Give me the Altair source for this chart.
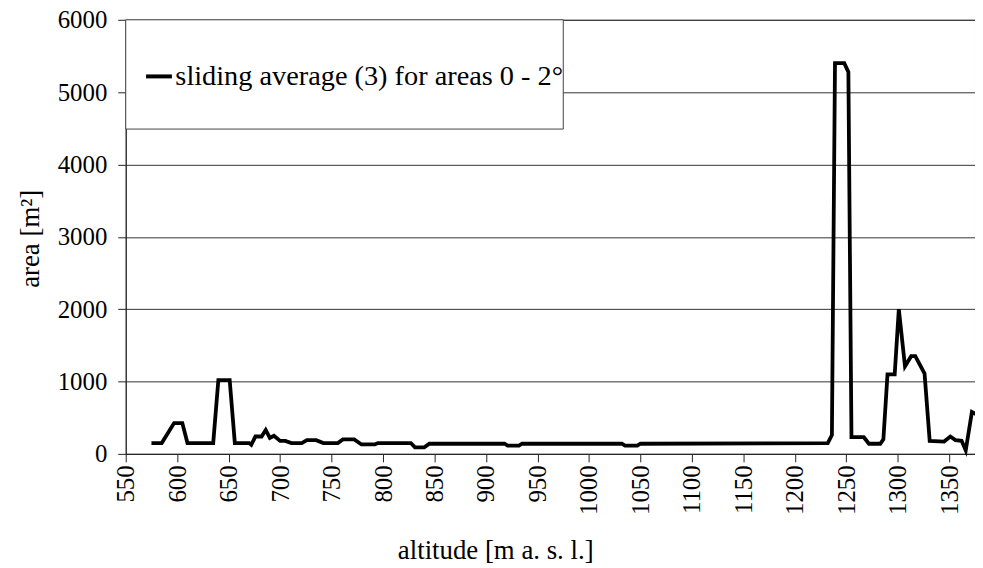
import altair as alt
import pandas as pd

# vertices of the plotted line (altitude [m a.s.l.], area [m2])
altitude = [575, 585, 597, 605, 610, 635, 640, 651, 656, 670, 672, 676, 682, 686, 690, 694,
            700, 705, 711, 721, 726, 735, 742, 756, 761, 772, 779, 792, 795, 827, 831, 840,
            845, 918, 921, 932, 935, 1032, 1035, 1047, 1050, 1232, 1236, 1239, 1248, 1252,
            1255, 1267, 1272, 1283, 1286, 1290, 1297, 1301, 1307, 1313, 1317, 1326, 1331,
            1345, 1351, 1356, 1362, 1366, 1372, 1376]
area = [150, 150, 425, 425, 150, 150, 1020, 1020, 150, 150, 125, 240, 240, 330, 220, 250,
        180, 180, 150, 150, 190, 190, 150, 150, 200, 200, 130, 130, 150, 150, 90, 90,
        140, 140, 115, 115, 140, 140, 115, 115, 140, 150, 260, 5400, 5400, 5280,
        230, 230, 140, 140, 200, 1100, 1100, 2000, 1210, 1350, 1350, 1110, 180,
        170, 240, 190, 180, 50, 580, 550]

x_ticks = list(range(550, 1351, 50))
y_ticks = [0, 1000, 2000, 3000, 4000, 5000, 6000]
legend_label = "sliding average (3) for areas 0 - 2°"
x_title = "altitude [m a. s. l.]"
y_title = "area [m²]"

df = pd.DataFrame({"altitude": altitude, "area": area})

W, H = 855, 437
FONT = "Liberation Serif"

common = dict(labelFont=FONT, titleFont=FONT, labelColor="black", titleColor="black",
              titleFontWeight="normal", labelFontWeight="normal", labelFlush=False,
              labelOverlap=False, format="d", labelFontSize=25, titleFontSize=27,
              domainColor="#222", tickColor="#222", tickSize=8)

x_enc = alt.X("altitude:Q",
              scale=alt.Scale(domain=[550, 1375], nice=False, zero=False),
              axis=alt.Axis(values=x_ticks, labelAngle=-90, title=x_title,
                            grid=False, labelPadding=3,
                            titleX=372, titleY=97, titleBaseline="middle",
                            **common))
y_enc = alt.Y("area:Q",
              scale=alt.Scale(domain=[0, 6000], nice=False),
              axis=alt.Axis(values=y_ticks, title=y_title, grid=True,
                            gridColor="#333", gridWidth=1, gridOpacity=1,
                            labelPadding=11,
                            titleX=-96, titleY=220, titleAngle=-90,
                            titleBaseline="middle", titleAlign="center",
                            **common))

line = alt.Chart(df).mark_line(color="black", strokeWidth=3.8).encode(x=x_enc, y=y_enc)

legend_df = pd.DataFrame({"label": [legend_label]})
box = alt.Chart(legend_df).mark_rect(fill="white", stroke="#444", strokeWidth=1).encode(
    x=alt.value(0), x2=alt.value(440.5), y=alt.value(0), y2=alt.value(110))
sample = alt.Chart(legend_df).mark_rule(color="black", strokeWidth=4).encode(
    x=alt.value(20.5), x2=alt.value(46.5), y=alt.value(57))
text = alt.Chart(legend_df).mark_text(align="left", baseline="middle", fontSize=28.5,
                                      font=FONT, color="black").encode(
    x=alt.value(50), y=alt.value(57), text="label:N")

chart = alt.layer(line, box, sample, text).properties(
    width=W, height=H,
    autosize=alt.AutoSizeParams(type="none"),
    padding={"left": 118.5, "top": 10, "right": 0, "bottom": 110},
    background="white",
).configure_view(stroke="#444", strokeWidth=1)

chart.save("out.html", embed_options={"renderer": "svg", "actions": False})
